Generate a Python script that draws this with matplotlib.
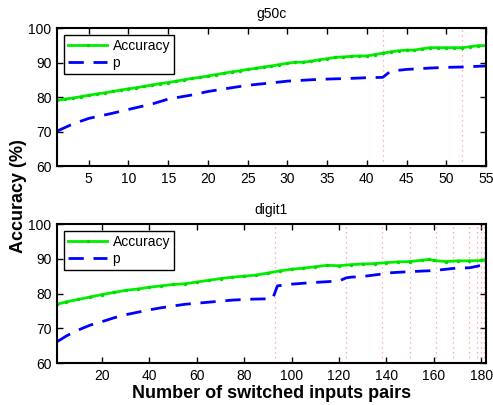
import matplotlib
matplotlib.use("Agg")
import matplotlib.pyplot as plt

plt.rcParams["font.family"] = ["Liberation Sans", "DejaVu Sans"]

# g50c
g_x = list(range(1, 56))
g_acc = [79.0, 79.4, 79.7, 80.1, 80.5, 80.9, 81.2, 81.6, 82.0, 82.4,
         82.7, 83.1, 83.5, 83.9, 84.2, 84.6, 85.0, 85.4, 85.7, 86.1,
         86.5, 86.9, 87.3, 87.6, 88.0, 88.3, 88.7, 89.0, 89.4, 89.8,
         90.1, 90.1, 90.4, 90.8, 91.1, 91.5, 91.6, 91.8, 91.9, 91.9,
         92.3, 92.7, 93.1, 93.4, 93.6, 93.6, 94.0, 94.3, 94.3, 94.3,
         94.3, 94.3, 94.6, 94.9, 94.9]
g_px = [1, 3, 5, 8, 10, 13, 15, 18, 20, 23, 25, 28, 30, 33, 35, 38, 40, 42,
        43, 45, 48, 50, 52, 55]
g_p = [70.1, 72.2, 73.8, 75.3, 76.4, 78.0, 79.4, 80.6, 81.6, 82.7, 83.4,
       84.1, 84.6, 85.0, 85.2, 85.4, 85.6, 85.7, 87.5, 88.0, 88.4, 88.6,
       88.7, 89.0]
g_switch = [42, 52, 55]

# digit1
d_x = [1, 5, 10, 15, 20, 25, 30, 35, 40, 45, 50, 55, 60, 65, 70, 75, 80,
       85, 90, 95, 100, 105, 110, 115, 120, 125, 130, 135, 140, 145, 150,
       155, 158, 160, 165, 170, 175, 180, 182]
d_acc = [76.9, 77.6, 78.3, 79.0, 79.7, 80.3, 80.9, 81.3, 81.8, 82.2, 82.6,
         82.8, 83.3, 83.8, 84.3, 84.7, 85.0, 85.3, 85.9, 86.5, 87.0, 87.3,
         87.7, 88.1, 88.0, 88.3, 88.5, 88.6, 88.9, 89.1, 89.2, 89.6, 89.8,
         89.5, 89.2, 89.4, 89.4, 89.5, 89.5]
d_px = [1, 5, 10, 15, 20, 25, 30, 35, 40, 45, 50, 55, 60, 65, 70, 75, 80,
        85, 92, 94, 100, 110, 120, 123, 125, 130, 138, 140, 150, 160, 168,
        170, 175, 178, 182]
d_p = [66.1, 67.8, 69.5, 70.9, 71.9, 73.0, 73.9, 74.6, 75.3, 75.9, 76.4,
       76.9, 77.2, 77.5, 77.8, 78.1, 78.3, 78.4, 78.5, 82.2, 82.7, 83.2,
       83.6, 84.5, 84.7, 84.9, 85.6, 85.9, 86.3, 86.6, 87.2, 87.3, 87.4,
       87.8, 88.5]
d_switch = [93, 123, 138, 150, 161, 168, 175, 178, 180, 181, 182]

panels = [
    ("g50c", g_x, g_acc, g_px, g_p, g_switch, (1, 55),
     [5, 10, 15, 20, 25, 30, 35, 40, 45, 50, 55]),
    ("digit1", d_x, d_acc, d_px, d_p, d_switch, (1, 182),
     [20, 40, 60, 80, 100, 120, 140, 160, 180]),
]
boxes = [[0.1156, 0.5901, 0.8702, 0.3407], [0.1156, 0.1037, 0.8702, 0.3432]]

fig = plt.figure(figsize=(4.93, 4.05), dpi=100)

for box, (title, x, acc, px, p, sw, xlim, xticks) in zip(boxes, panels):
    ax = fig.add_axes(box)
    for s in sw:
        ax.axvline(s, color="#ff7070", ls=(0, (1, 3)), lw=0.9, alpha=0.7)
    ax.plot(x, acc, color="#00ee00", lw=2, marker=".", ms=3,
            mec="#00dd00", mfc="#00dd00", label="Accuracy")
    ax.plot(px, p, color="#0000ff", lw=2, ls=(0, (5.5, 3.5)), label="p")
    ax.set_xlim(*xlim)
    ax.set_ylim(60, 100)
    ax.set_xticks(xticks)
    ax.set_yticks([60, 70, 80, 90, 100])
    ax.tick_params(direction="in", top=True, right=True, length=4,
                   width=1, labelsize=10, pad=4)
    for sp in ax.spines.values():
        sp.set_linewidth(1.5)
    ax.set_title(title, fontsize=10, pad=7)
    leg = ax.legend(loc="upper left", fontsize=10, fancybox=False,
                    framealpha=1, borderpad=0.3, handlelength=2.8,
                    handletextpad=0.4, labelspacing=0.2, borderaxespad=0.5)
    leg.get_frame().set_edgecolor("black")
    leg.get_frame().set_linewidth(1)
    if title == "digit1":
        ax.set_xlabel("Number of switched inputs pairs", fontsize=13,
                      fontweight="bold", labelpad=2)

fig.text(0.037, 0.515, "Accuracy (%)", rotation=90, fontsize=13,
         fontweight="bold", ha="center", va="center")

fig.savefig("out.png", dpi=100)
